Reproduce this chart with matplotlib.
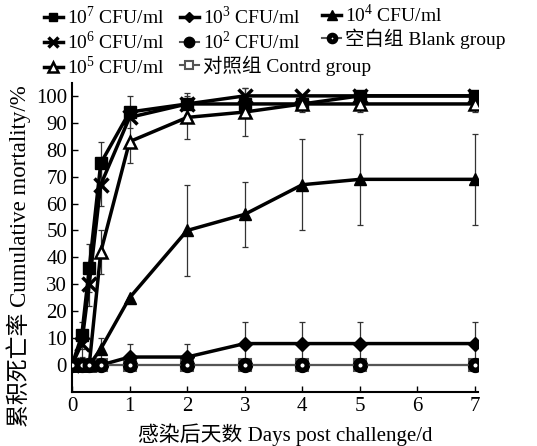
import numpy as np
import matplotlib.pyplot as plt

plt.rcParams['font.family'] = ['Liberation Serif', 'Noto Sans CJK SC']
plt.rcParams['mathtext.fontset'] = 'custom'
plt.rcParams['mathtext.rm'] = 'Liberation Serif'

# sampling days
days = [0, 0.17, 0.3, 0.5, 1, 2, 3, 4, 5, 7]

# cumulative mortality (%) and error bars
m7 = [0, 11, 36, 75, 94, 97, 97, 97, 100, 100]
e7 = [0, 5, 9, 8, 6, 0, 0, 0, 0, 0]
m6 = [0, 8, 30, 67, 92, 97, 100, 100, 100, 100]
e6 = [0, 5, 8, 8, 0, 4, 3, 0, 0, 0]
m5 = [0, 0, 0, 42, 83, 92, 94, 97, 97, 97]
e5 = [0, 0, 0, 8, 8, 8, 9, 3, 3, 3]
m4 = [0, 0, 0, 6, 25, 50, 56, 67, 69, 69]
e4 = [0, 0, 0, 4, 0, 17, 12, 17, 17, 17]
m3 = [0, 0, 0, 0, 3, 3, 8, 8, 8, 8]
e3 = [0, 0, 0, 0, 5, 5, 8, 8, 8, 8]
m2 = [0] * 10
blank = [0] * 10
control = [0] * 10

fig = plt.figure(figsize=(5.37, 4.46), dpi=100)
ax = fig.add_axes([0.134, 0.121, 0.756, 0.693])

def errs(y, e):
    idx = [i for i, v in enumerate(e) if v > 0]
    ax.errorbar([days[i] for i in idx], [y[i] for i in idx], yerr=[e[i] for i in idx],
                fmt='none', ecolor='#333333', elinewidth=0.9, capsize=2, capthick=0.9, zorder=2)

for y, e in [(m7, e7), (m6, e6), (m5, e5), (m4, e4), (m3, e3)]:
    errs(y, e)

h7, = ax.plot(days, m7, color='black', lw=2.5, marker='s', ms=8, label='10$^7$ CFU/ml', zorder=5)
h6, = ax.plot(days, m6, color='black', lw=2.5, marker='x', ms=10, mew=2.5, label='10$^6$ CFU/ml', zorder=5)
h5, = ax.plot(days, m5, color='black', lw=2.5, marker='^', ms=9, mfc='white', mew=1.8, label='10$^5$ CFU/ml', zorder=5)
h4, = ax.plot(days, m4, color='black', lw=2.5, marker='^', ms=9, label='10$^4$ CFU/ml', zorder=5)
h3, = ax.plot(days, m3, color='black', lw=2.5, marker='D', ms=7, label='10$^3$ CFU/ml', zorder=5)
hc, = ax.plot(days, control, color='#555555', lw=1.5, marker='s', ms=8, mfc='white', mew=1.5,
              label='对照组 Contrd group', zorder=4)
h2, = ax.plot(days, m2, color='#555555', lw=1.5, marker='o', ms=10, mfc='black', mec='black',
              label='10$^2$ CFU/ml', zorder=6)
hb, = ax.plot(days, blank, color='#555555', lw=1.5, marker='o', ms=6.5, mfc='white', mec='black', mew=3.5,
              label='空白组 Blank group', zorder=7)

ax.set_xlim(0, 7.05)
ax.set_ylim(-10, 104.8)
ax.set_xticks(range(0, 8))
ax.set_yticks(range(0, 101, 10))
ax.tick_params(direction='in', labelsize=15, length=4, width=1)
for s in ['top', 'right']:
    ax.spines[s].set_visible(False)
for s in ['left', 'bottom']:
    ax.spines[s].set_linewidth(1.5)

ax.set_xlabel('感染后天数 Days post challenge/d', fontsize=15)
ax.set_ylabel('累积死亡率 Cumulative mortality/%', fontsize=16.5)
ax.xaxis.set_label_coords(0.525, -0.1)
ax.yaxis.set_label_coords(-0.1, 0.44)

leg_kw = dict(loc='upper left', frameon=False, fontsize=14, handlelength=1.0,
              handletextpad=0.2, labelspacing=0.12, markerscale=0.75, borderaxespad=0)
fig.legend(handles=[h7, h6, h5], bbox_to_anchor=(0.067, 1.005), **leg_kw)
fig.legend(handles=[h3, h2, hc], bbox_to_anchor=(0.32, 1.005), **leg_kw)
fig.legend(handles=[h4, hb], bbox_to_anchor=(0.585, 1.01), **leg_kw)

fig.savefig('out.png', dpi=100)
